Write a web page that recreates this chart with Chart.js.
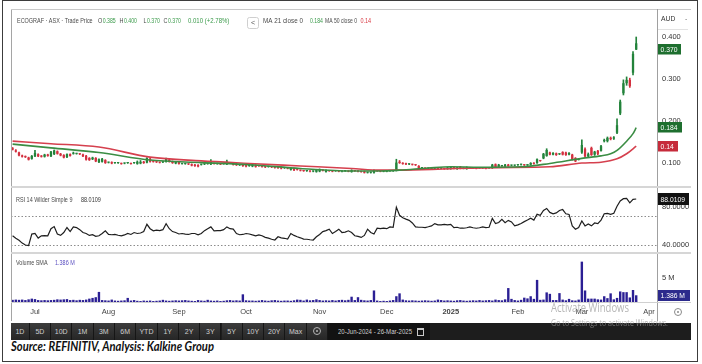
<!DOCTYPE html>
<html>
<head>
<meta charset="utf-8">
<title>ECOGRAF ASX</title>
<script src="https://cdn.jsdelivr.net/npm/chart.js@4.4.1/dist/chart.umd.min.js"></script>
<style>
html, body { margin: 0; padding: 0; background: #fff; }
body { position: relative; width: 702px; height: 364px; overflow: hidden; font-family: "Liberation Sans", Arial, sans-serif; }
#frame { position: absolute; left: 2px; top: 0; width: 694px; height: 360px; border: 1.5px solid #3c3c3c; }
#wrap { position: absolute; left: 11px; top: 9px; width: 680px; height: 312px; }
#wrap canvas { display: block; }
#bar { position: absolute; left: 11px; top: 323px; width: 680px; height: 17px; background: #1d1d1d; }
.btn { position: absolute; top: 0; height: 17px; line-height: 17px; text-align: center; color: #cfcfcf; font-size: 7px; background: linear-gradient(#3c3c3c, #262626); border-right: 1px solid #161616; box-sizing: border-box; }
.gear { display: inline-block; width: 6px; height: 6px; border: 1px solid #b5b5b5; border-radius: 50%; vertical-align: middle; position: relative; top: -1px; }
.gear::after { content: ''; position: absolute; left: 2px; top: 2px; width: 2px; height: 2px; border-radius: 50%; background: #b5b5b5; }
#dates { position: absolute; left: 317px; top: 0; width: 102px; height: 17px; background: #121212; color: #d0d0d0; font-size: 7px; line-height: 17px; }
#dates span { position: absolute; left: 10px; top: 0; white-space: nowrap; transform-origin: left center; }
#cal { position: absolute; left: 89px; top: 5px; width: 5px; height: 5px; border: 1px solid #c8c8c8; border-top-width: 2px; }
#src { position: absolute; left: 11px; top: 340px; font: italic 700 12.5px Lato, "Open Sans", sans-serif; line-height: 13px; color: #111; white-space: nowrap; transform-origin: left top; }
.wm { position: absolute; white-space: nowrap; color: rgba(150,150,150,0.7); font-family: "Open Sans", sans-serif; transform-origin: left top; }
</style>
</head>
<body>
<div id="frame"></div>
<div id="wrap"><canvas id="chart" width="680" height="312"></canvas></div>
<div id="bar"><div id="dates"><span>20-Jun-2024 - 26-Mar-2025</span><div id="cal"></div></div></div>
<div id="src">Source: REFINITIV, Analysis: Kalkine Group</div>
<div class="wm" id="wm1" style="left:551px; top:301px; font-size:12px; line-height:14px;">Activate Windows</div>
<div class="wm" id="wm2" style="left:551px; top:318px; font-size:8.5px; line-height:10px;">Go to Settings to activate Windows.</div>
<script>
// trading days on the time axis (weekends + ASX holidays skipped), a few empty days at the end
const holidays = ['2024-12-25', '2024-12-26', '2025-01-01', '2025-01-27'];
const days = [];
for (let d = new Date(Date.UTC(2024, 5, 20)); d <= new Date(Date.UTC(2025, 3, 3)); d.setUTCDate(d.getUTCDate() + 1)) {
  const s = d.toISOString().slice(0, 10);
  if (d.getUTCDay() % 6 === 0 || holidays.includes(s)) continue;
  days.push(s);
}
const monthStarts = ['2024-07-01', '2024-08-01', '2024-09-02', '2024-10-01', '2024-11-01', '2024-12-02', '2025-01-02', '2025-02-03', '2025-03-03', '2025-04-01'];
const monthLabels = ['Jul', 'Aug', 'Sep', 'Oct', 'Nov', 'Dec', '2025', 'Feb', 'Mar', 'Apr'];

const opens = [
  .135,.130,.125,.118,.116,.113,.110,.116,.121,.117, .115,.120,.116,.121,.128,.122,.119,.114,.121,.122,
  .122,.121,.120,.117,.112,.109,.112,.102,.103,.107, .101,.102,.100,.100,.099,.099,.100,.099,.100,.098,
  .099,.103,.101,.103,.104,.102,.101,.102,.103,.108, .104,.099,.102,.098,.098,.097,.097,.096,.095,.096,
  .097,.098,.097,.098,.098,.097,.098,.097,.100,.100, .098,.095,.096,.095,.093,.092,.091,.093,.091,.090,
  .091,.090,.089,.091,.090,.088,.087,.084,.083,.084, .082,.081,.081,.080,.080,.079,.080,.082,.079,.081,
  .080,.081,.080,.080,.081,.080,.079,.081,.080,.079, .080,.077,.077,.077,.081,.080,.080,.080,.081,.081,
  .082,.103,.100,.099,.097,.096,.095,.093,.088,.087, .087,.086,.087,.086,.087,.086,.089,.086,.090,.086,
  .091,.087,.086,.088,.088,.087,.088,.088,.087,.088, .088,.097,.096,.093,.092,.096,.094,.094,.095,.096,
  .095,.095,.096,.100,.100,.105,.111,.117,.125,.124, .123,.121,.126,.125,.124,.120,.112,.108,.125,.133,
  .116,.136,.120,.129,.129,.152,.152,.160,.158,.172, .218,.266,.290,.298,.315,.385];
const highs = [
  .137,.132,.126,.119,.117,.114,.118,.130,.122,.118, .121,.121,.128,.131,.129,.123,.120,.122,.122,.126,
  .123,.122,.121,.118,.113,.114,.113,.110,.111,.108, .102,.103,.101,.101,.100,.100,.101,.100,.101,.105,
  .106,.104,.113,.111,.105,.103,.102,.103,.112,.109, .105,.104,.103,.099,.099,.098,.098,.097,.096,.097,
  .098,.099,.108,.099,.099,.098,.099,.107,.101,.101, .099,.096,.097,.096,.094,.097,.096,.094,.092,.091,
  .092,.091,.090,.092,.091,.089,.088,.089,.088,.085, .083,.082,.082,.081,.081,.085,.086,.083,.084,.082,
  .081,.082,.081,.081,.082,.081,.084,.082,.081,.080, .081,.078,.078,.084,.082,.081,.081,.081,.082,.082,
  .109,.106,.101,.100,.098,.097,.096,.094,.089,.088, .088,.087,.088,.087,.088,.087,.090,.091,.091,.090,
  .092,.088,.091,.089,.089,.088,.089,.089,.088,.089, .097,.098,.097,.094,.097,.097,.095,.095,.096,.097,
  .096,.096,.101,.101,.110,.106,.123,.134,.126,.125, .124,.122,.127,.126,.125,.121,.113,.109,.155,.136,
  .124,.138,.128,.130,.142,.157,.162,.162,.163,.205, .250,.298,.305,.302,.365,.400];
const lows = [
  .131,.126,.117,.114,.113,.107,.109,.115,.115,.114, .114,.116,.115,.120,.121,.117,.112,.113,.116,.121,
  .121,.120,.115,.107,.106,.108,.103,.101,.102,.099, .100,.098,.099,.099,.097,.098,.099,.097,.099,.097,
  .098,.099,.100,.102,.102,.101,.100,.101,.102,.102, .099,.098,.097,.097,.097,.096,.093,.092,.091,.095,
  .096,.097,.096,.097,.097,.096,.097,.096,.099,.095, .094,.094,.092,.091,.092,.091,.090,.092,.090,.089,
  .090,.089,.088,.087,.086,.087,.086,.083,.082,.083, .081,.080,.080,.079,.079,.078,.079,.081,.078,.080,
  .079,.080,.079,.079,.080,.079,.078,.080,.079,.078, .076,.076,.076,.076,.080,.079,.079,.079,.080,.080,
  .081,.099,.097,.096,.096,.095,.094,.087,.087,.086, .086,.085,.086,.085,.086,.085,.085,.085,.086,.085,
  .086,.086,.085,.087,.087,.086,.087,.087,.086,.087, .087,.089,.090,.092,.091,.092,.093,.093,.094,.095,
  .094,.094,.095,.097,.099,.104,.110,.116,.119,.119, .118,.120,.119,.118,.119,.107,.103,.107,.123,.114,
  .114,.118,.118,.120,.128,.150,.150,.155,.156,.170, .215,.262,.285,.280,.310,.370];
const closes = [
  .132,.127,.118,.115,.114,.108,.117,.124,.116,.115, .120,.117,.127,.130,.122,.118,.113,.121,.117,.122,
  .122,.121,.116,.108,.107,.113,.104,.109,.110,.100, .101,.099,.100,.100,.098,.099,.100,.098,.100,.103,
  .103,.100,.112,.110,.103,.102,.101,.102,.111,.103, .100,.103,.098,.098,.098,.097,.094,.093,.092,.096,
  .097,.098,.103,.098,.098,.097,.098,.103,.100,.096, .095,.095,.093,.092,.093,.096,.095,.093,.091,.090,
  .091,.090,.089,.088,.087,.088,.087,.088,.087,.084, .082,.081,.081,.080,.080,.084,.085,.082,.083,.081,
  .080,.081,.080,.080,.081,.080,.083,.081,.080,.079, .077,.077,.077,.083,.081,.080,.080,.080,.081,.081,
  .101,.100,.098,.097,.097,.096,.095,.088,.088,.087, .087,.086,.087,.086,.087,.086,.086,.090,.087,.089,
  .087,.087,.090,.088,.088,.087,.088,.088,.087,.088, .096,.090,.091,.093,.096,.093,.094,.094,.095,.096,
  .095,.095,.100,.098,.109,.105,.122,.131,.120,.120, .119,.121,.120,.119,.120,.108,.104,.108,.143,.116,
  .121,.119,.127,.122,.140,.155,.160,.157,.161,.190, .246,.290,.298,.283,.360,.370];

// moving averages, read at the day indexes listed next to them
const ma21Idx = [0, 12, 27, 43, 59, 74, 90, 106, 115, 121, 130, 137, 146, 159, 168, 178, 184, 187, 189, 192, 194, 195];
const ma21Val = [0.145, 0.136, 0.125, 0.107, 0.101, 0.096, 0.087, 0.081, 0.081, 0.083, 0.088, 0.091, 0.090, 0.091, 0.099, 0.111, 0.117, 0.122, 0.130, 0.152, 0.170, 0.184];
const ma50Idx = [0, 12, 27, 43, 59, 74, 90, 106, 115, 121, 137, 152, 168, 178, 184, 189, 192, 195];
const ma50Val = [0.152, 0.146, 0.138, 0.114, 0.105, 0.099, 0.093, 0.087, 0.083, 0.083, 0.0865, 0.089, 0.091, 0.100, 0.102, 0.110, 0.122, 0.14];

const rsi = [
  49.6,47,45,42,40,39.4,51.4,52,47.2,49.6, 49.8,49.6,57,59.2,51.4,50,53,58.2,54,58.9,
  58.2,56,53,52,50,50.7,49,49.6,52,54.8, 51,50.7,51,50.2,49.6,50.5,52,51,53,52,
  52.5,54,61.6,57,54.8,55.5,55,56,62.3,57, 54,53,51.5,52,51.4,51,52,52,50.7,52,
  55,57,58.9,54.8,55,55,56,58.9,57,56.5, 52,50.7,51,52,51.5,50.5,49.6,50.5,49.6,48,
  47.2,46,45.2,48.6,47.5,47,46.2,52,50,48.6, 47.5,46.2,46,45.5,45.2,48.6,51,54,55,56.5,
  52,54,56.5,53,53.5,54.8,53,49.6,49,47.9, 50,56.5,53,51.4,57.5,57,57.5,57,58.9,58.5,
  79.4,71,68.5,67,65.7,63,58.9,58.5,58.5,58.2, 59,59.9,62.3,61,60.9,61.5,61,61.6,58.2,58.5,
  57.5,57.5,58,58.9,58,57.5,58,58.9,58.2,58.5, 67.8,62.3,63.5,66.8,63.3,65.7,64,59.9,61,62.5,
  64.4,66,68,66,72,71,76,78.1,74,72.6, 73.5,76,77,72.6,71.9,60,56.5,58.2,65,59.9,
  62,60,63,62.3,66,72.6,73,72,73,80.5, 86,88.3,88.6,84,87.6,88.0109];
const rsiBands = [70, 40];

// volume, millions of shares
const volume = [
  .45,.5,.45,.5,.4,.55,.7,.6,.4,.35, .4,.35,.4,.45,.55,.5,.55,.6,.4,.45,
  .35,.45,.4,.5,.7,.85,1.0,2.1,.4,.35, .3,.5,.3,.25,.3,.35,.85,.3,.4,.25,
  .2,.3,.25,.3,.2,.25,.3,.45,.3,.25, .3,.35,.3,.35,.4,.3,.25,.2,.4,.3,
  .25,.45,.3,.25,.3,.2,.25,.35,.4,.3, .35,.3,1.6,.35,.3,.3,.25,.3,.4,.3,
  .25,.35,.4,.3,.25,.3,.3,.25,.35,.5, .45,.3,.5,.35,.4,.55,.4,.3,.35,.3,
  .4,.3,.4,.45,.35,.45,1.1,.4,1.0,.45, .35,.3,.4,2.4,.3,.2,.25,.2,.3,.4,
  1.2,1.8,.5,.35,.3,.35,.3,.25,.3,.35, .3,.25,.3,.5,.4,.3,.35,.3,.25,.35,
  .4,.3,.25,.3,.35,.3,.4,.3,.35,.4, .3,.5,.4,.35,.55,2.9,.65,.4,.3,.45,
  .9,.75,1.2,.65,4.6,.45,.5,2.0,1.7,.4, .4,1.85,.5,.35,.65,.35,.3,.5,8.4,2.4,
  .7,.7,.7,.55,.5,1.2,.8,1.8,.55,.85, 2.2,2.05,2.05,.95,2.5,1.4];
const volSma = 1.386;

const priceTicks = [0.1, 0.2, 0.3, 0.4];
const rsiTicks = [40, 80];
const volTicks = [5];

const UP = '#23833b', DOWN = '#d3303f';
const GRAY = '#4a4a4a', GREEN_TXT = '#3a9a4a', RED_TXT = '#d8363f';
const candleColor = closes.map((c, i) => c >= (i ? closes[i - 1] : opens[0]) ? UP : DOWN);
const last = closes.length - 1;

function put(ctx, s, x, y, color, font, sx) {
  sx = sx || 0.78;
  ctx.save();
  ctx.font = font || '7px "Liberation Sans"';
  ctx.fillStyle = color;
  ctx.textBaseline = 'middle';
  ctx.textAlign = 'left';
  const w = ctx.measureText(s).width * sx;
  ctx.translate(x, y);
  ctx.scale(sx, 1);
  ctx.fillText(s, 0, 0);
  ctx.restore();
  return x + w;
}
function line(ctx, x1, y1, x2, y2, color, w) {
  ctx.save();
  ctx.strokeStyle = color; ctx.lineWidth = w;
  ctx.beginPath(); ctx.moveTo(x1, y1); ctx.lineTo(x2, y2); ctx.stroke();
  ctx.restore();
}
function badge(ctx, x, y, bg, text, w, h) {
  h = h || 10.5;
  ctx.fillStyle = bg;
  ctx.fillRect(x, Math.round(y - h / 2), w, h);
  put(ctx, text, x + 2.5, Math.round(y - h / 2) + h / 2 + 0.5, '#fff', '7.5px "Liberation Sans"', 0.9);
}

const panes = {
  id: 'panes',
  beforeDatasetsDraw(chart) {
    const {ctx, chartArea: a, scales: s} = chart;
    ctx.save();
    ctx.strokeStyle = '#8c8c8c'; ctx.lineWidth = 1; ctx.setLineDash([1.5, 2]);
    rsiBands.forEach(v => {
      const y = Math.round(s.rsi.getPixelForValue(v)) + 0.5;
      ctx.beginPath(); ctx.moveTo(a.left, y); ctx.lineTo(a.right, y); ctx.stroke();
    });
    ctx.restore();
  },
  afterDraw(chart) {
    const {ctx, chartArea: a, scales: s, width, height} = chart;
    line(ctx, 0.5, 0, 0.5, height, '#a5a5a5', 1);
    line(ctx, 0, 0.5, width, 0.5, '#c9c9c9', 1);
    line(ctx, a.right + 0.5, 0, a.right + 0.5, height, '#a0a0a0', 1);
    [s.y.bottom, s.rsi.bottom].forEach(y => line(ctx, 0, y, width, y, '#d6d6d6', 2));
    line(ctx, 0, s.x.top + 0.5, width, s.x.top + 0.5, '#d0d0d0', 1);
    line(ctx, a.right + 1, 20.5, width - 3, 20.5, '#e2e2e2', 1);

    // header of the price pane
    put(ctx, 'ECOGRAF \u00b7 ASX \u00b7 Trade Price', 6, 12, GRAY);
    [['O', opens[last], 87], ['H', highs[last], 108.5], ['L', lows[last], 132.5], ['C', closes[last], 152.5]]
      .forEach(([k, v, x]) => put(ctx, v.toFixed(3), put(ctx, k, x, 12, GRAY) + 0.5, 12, GREEN_TXT, null, 0.74));
    const chg = closes[last] - closes[last - 1];
    put(ctx, chg.toFixed(3) + ' (+' + (chg / closes[last - 1] * 100).toFixed(2) + '%)', 177, 12, GREEN_TXT, null, 0.86);
    ctx.save();
    ctx.strokeStyle = '#cfcfcf'; ctx.lineWidth = 1;
    ctx.beginPath(); ctx.roundRect(236.5, 8.5, 11, 11, 2); ctx.stroke();
    ctx.restore();
    put(ctx, '<', 240, 14, '#555', '8px "Liberation Sans"', 0.9);
    put(ctx, 'MA 21 close 0', 252, 12, GRAY, null, 0.9);
    put(ctx, ma21Val[ma21Val.length - 1].toFixed(3), 299, 12, GREEN_TXT, null, 0.74);
    put(ctx, 'MA 50 close 0', 314, 12, GRAY, null, 0.72);
    put(ctx, ma50Val[ma50Val.length - 1].toFixed(2), 349.5, 12, RED_TXT);
    put(ctx, 'AUD', a.right + 4, 10, '#333', '7.5px "Liberation Sans"', 0.9);
    put(ctx, '-', width - 6, 10, '#777', '7px "Liberation Sans"', 1);

    put(ctx, 'RSI 14 Wilder Simple 9', 5, 191, GRAY);
    put(ctx, rsi[last].toFixed(4), 70, 191, '#333');
    put(ctx, 'Volume SMA', 5, 254, GRAY);
    put(ctx, volSma.toFixed(3) + ' M', 44, 254, '#5a4fc0');

    const bx = a.right + 1;
    badge(ctx, bx, s.y.getPixelForValue(closes[last]), '#1e6f2f', closes[last].toFixed(3), 23);
    badge(ctx, bx, s.y.getPixelForValue(ma21Val[ma21Val.length - 1]), '#1e6f2f', ma21Val[ma21Val.length - 1].toFixed(3), 24);
    badge(ctx, bx, s.y.getPixelForValue(ma50Val[ma50Val.length - 1]), '#c62b3b', ma50Val[ma50Val.length - 1].toFixed(2), 20);
    badge(ctx, bx, s.rsi.getPixelForValue(rsi[last]), '#111', rsi[last].toFixed(4), 31, 12);
    badge(ctx, bx, s.vol.getPixelForValue(volSma), '#2c2a8c', volSma.toFixed(3) + ' M', 32, 11);

    // settings icon under the right axis
    ctx.save();
    ctx.strokeStyle = '#8a8a8a'; ctx.fillStyle = '#8a8a8a'; ctx.lineWidth = 1;
    ctx.beginPath(); ctx.arc(667, 303, 3.5, 0, Math.PI * 2); ctx.stroke();
    ctx.beginPath(); ctx.arc(667, 303, 1, 0, Math.PI * 2); ctx.fill();
    ctx.restore();
  }
};

function rightAxis(weight, min, max, ticks, fmt) {
  return {
    position: 'right', stack: 'panes', stackWeight: weight, min: min, max: max,
    grid: {display: false, drawTicks: false}, border: {display: false},
    afterBuildTicks(sc) { sc.ticks = ticks.map(v => ({value: v})); },
    ticks: {padding: 5, color: '#333', font: {size: 7.5}, callback: fmt},
    afterFit(sc) { sc.width = 34; sc.paddingTop = 0; sc.paddingBottom = 0; }
  };
}

Chart.defaults.font.family = '"Liberation Sans", Arial, sans-serif';

new Chart(document.getElementById('chart'), {
  type: 'bar',
  data: {
    labels: days,
    datasets: [
      {type: 'line', label: 'MA 21', data: ma21Idx.map((k, i) => ({x: days[k], y: ma21Val[i]})), yAxisID: 'y',
       borderColor: '#3b8d44', borderWidth: 1.6, pointRadius: 0, cubicInterpolationMode: 'monotone', order: 0},
      {type: 'line', label: 'MA 50', data: ma50Idx.map((k, i) => ({x: days[k], y: ma50Val[i]})), yAxisID: 'y',
       borderColor: '#d5404e', borderWidth: 1.6, pointRadius: 0, cubicInterpolationMode: 'monotone', order: 0},
      {type: 'bar', label: 'body', data: opens.map((o, i) => [o, closes[i]]), yAxisID: 'y',
       backgroundColor: candleColor, barPercentage: 0.72, categoryPercentage: 1, grouped: false, minBarLength: 1, order: 1},
      {type: 'bar', label: 'wick', data: lows.map((l, i) => [l, highs[i]]), yAxisID: 'y',
       backgroundColor: candleColor, barThickness: 1, grouped: false, minBarLength: 1, order: 2},
      {type: 'line', label: 'RSI', data: rsi, yAxisID: 'rsi',
       borderColor: '#1e1e1e', borderWidth: 1.2, pointRadius: 0, order: 0},
      {type: 'bar', label: 'Volume', data: volume, yAxisID: 'vol',
       backgroundColor: '#2b1f94', barPercentage: 0.75, categoryPercentage: 1, grouped: false, order: 3}
    ]
  },
  options: {
    responsive: false, animation: false, devicePixelRatio: 1, events: [],
    layout: {padding: {top: 2}},
    plugins: {legend: {display: false}, tooltip: {enabled: false}},
    scales: {
      x: {
        type: 'category', offset: true, grid: {display: false, drawTicks: false}, border: {display: false},
        ticks: {
          autoSkip: false, maxRotation: 0, padding: 5, color: '#444',
          font: c => ({size: 7.5, weight: c.tick && c.tick.label === '2025' ? 'bold' : 'normal'}),
          callback(v) { const k = monthStarts.indexOf(this.getLabelForValue(v)); return k < 0 ? '' : monthLabels[k]; }
        },
        afterFit(sc) { sc.height = 19; sc.paddingLeft = 0; sc.paddingRight = 0; }
      },
      y: rightAxis(176, 0.0429, 0.4619, priceTicks, v => v.toFixed(3)),
      rsi: rightAxis(66, 31.65, 100.5, rsiTicks, v => v.toFixed(4)),
      vol: rightAxis(49, 0, 10.2, volTicks, v => v + ' M')
    }
  },
  plugins: [panes]
});

// toolbar under the chart
const ranges = ['1D', '5D', '10D', '1M', '3M', '6M', 'YTD', '1Y', '2Y', '3Y', '5Y', '10Y', '20Y', 'Max', ''];
const bar = document.getElementById('bar');
ranges.forEach((r, k) => {
  const b = document.createElement('div');
  b.className = 'btn';
  b.style.left = (k ? 21.3 * k - 2.5 : 0) + 'px';
  b.style.width = (k ? 21.3 : 18.8) + 'px';
  if (r) b.textContent = r; else b.innerHTML = '<span class="gear"></span>';
  bar.appendChild(b);
});

function fitWidth(el, w) {
  const r = el.getBoundingClientRect().width;
  el.style.transform = 'scaleX(' + (w / r) + ')';
}
fitWidth(document.querySelector('#dates span'), 74);
fitWidth(document.getElementById('src'), 203);
fitWidth(document.getElementById('wm1'), 78);
fitWidth(document.getElementById('wm2'), 117);
</script>
</body>
</html>
